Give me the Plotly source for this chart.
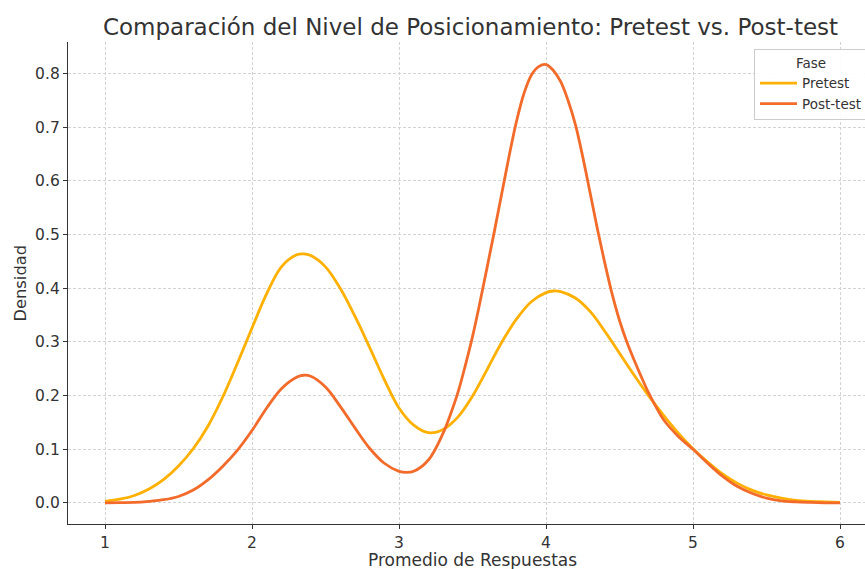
import plotly.graph_objects as go

# Density of the average response, per phase (sampled along the response scale)
pre_x = [1.0, 1.1, 1.2, 1.3, 1.4, 1.5, 1.6, 1.7, 1.8, 1.9, 2.0, 2.1, 2.2, 2.3, 2.35,
         2.4, 2.5, 2.6, 2.7, 2.8, 2.9, 3.0, 3.1, 3.2, 3.3, 3.4, 3.5, 3.6, 3.7, 3.8,
         3.9, 4.0, 4.05, 4.1, 4.2, 4.3, 4.4, 4.5, 4.6, 4.7, 4.8, 4.9, 5.0, 5.1, 5.2,
         5.3, 5.4, 5.5, 5.6, 5.7, 5.8, 5.9, 6.0]
pre_y = [0.003, 0.007, 0.014, 0.026, 0.044, 0.069, 0.101, 0.143, 0.197, 0.260, 0.326,
         0.390, 0.440, 0.462, 0.464, 0.461, 0.440, 0.400, 0.348, 0.290, 0.230, 0.177,
         0.145, 0.131, 0.137, 0.160, 0.199, 0.249, 0.300, 0.343, 0.375, 0.392, 0.395,
         0.394, 0.382, 0.357, 0.320, 0.279, 0.238, 0.199, 0.163, 0.130, 0.101, 0.076,
         0.054, 0.037, 0.024, 0.015, 0.009, 0.005, 0.003, 0.002, 0.001]

post_x = [1.0, 1.1, 1.2, 1.3, 1.4, 1.5, 1.6, 1.7, 1.8, 1.9, 2.0, 2.1, 2.2, 2.3, 2.35,
          2.4, 2.5, 2.6, 2.7, 2.8, 2.9, 3.0, 3.05, 3.1, 3.2, 3.3, 3.35, 3.4, 3.45,
          3.5, 3.55, 3.6, 3.65, 3.7, 3.75, 3.8, 3.85, 3.9, 3.95, 4.0, 4.05, 4.1,
          4.15, 4.2, 4.25, 4.3, 4.35, 4.4, 4.45, 4.5, 4.55, 4.6, 4.65, 4.7, 4.75,
          4.8, 4.9, 5.0, 5.1, 5.2, 5.3, 5.4, 5.5, 5.6, 5.7, 5.8, 5.9, 6.0]
post_y = [0.000, 0.0005, 0.001, 0.003, 0.006, 0.012, 0.024, 0.043, 0.068, 0.098, 0.135,
          0.177, 0.213, 0.234, 0.238, 0.236, 0.216, 0.180, 0.140, 0.102, 0.074, 0.059,
          0.057, 0.059, 0.080, 0.130, 0.165, 0.205, 0.255, 0.310, 0.373, 0.440, 0.508,
          0.578, 0.648, 0.712, 0.763, 0.797, 0.813, 0.817, 0.806, 0.785, 0.750, 0.705,
          0.645, 0.578, 0.510, 0.447, 0.389, 0.340, 0.300, 0.266, 0.234, 0.204, 0.178,
          0.155, 0.124, 0.100, 0.074, 0.050, 0.031, 0.018, 0.009, 0.004, 0.002, 0.001,
          0.0003, 0.000]

x_ticks = [1, 2, 3, 4, 5, 6]
y_ticks = [0.0, 0.1, 0.2, 0.3, 0.4, 0.5, 0.6, 0.7, 0.8]

FONT = "DejaVu Sans"
TEXT = "#333333"
GRID = "#d3d3d3"

fig = go.Figure()
fig.add_trace(go.Scatter(x=pre_x, y=pre_y, mode="lines", name="Pretest",
                         line=dict(color="#FFB000", width=2.8, shape="spline", smoothing=1.0)))
fig.add_trace(go.Scatter(x=post_x, y=post_y, mode="lines", name="Post-test",
                         line=dict(color="#F26B2A", width=2.8, shape="spline", smoothing=1.0)))

fig.update_layout(
    width=865, height=569,
    margin=dict(l=68, r=0, t=42, b=45, autoexpand=False),
    paper_bgcolor="white", plot_bgcolor="white",
    font=dict(family=FONT, color=TEXT, size=15),
    title=dict(text="Comparación del Nivel de Posicionamiento: Pretest vs. Post-test",
               font=dict(family=FONT, size=23, color=TEXT),
               xref="paper", x=0.505, xanchor="center",
               yref="container", y=1 - 27 / 569, yanchor="middle"),
    showlegend=True,
    legend=dict(title=dict(text="Fase", side="top center", font=dict(size=13.5, color=TEXT)),
                font=dict(size=13.5, color=TEXT),
                x=0.8607, xanchor="left", y=0.985, yanchor="top",
                bgcolor="rgba(255,255,255,0.9)", bordercolor="#cccccc", borderwidth=1,
                itemwidth=37, tracegroupgap=0),
)

axis_common = dict(
    showgrid=True, gridcolor=GRID, griddash="3px,2px", gridwidth=0.9,
    showline=True, linecolor="#333333", linewidth=1.3, mirror=False,
    ticks="outside", ticklen=4, tickcolor="#333333", tickwidth=1,
    tickfont=dict(size=15.5, color=TEXT), zeroline=False,
)
fig.update_xaxes(range=[0.7483, 6.170], tickmode="array", tickvals=x_ticks,
                 ticktext=[str(v) for v in x_ticks], **axis_common)
fig.update_yaxes(range=[-0.0392, 0.859], tickmode="array", tickvals=y_ticks,
                 ticktext=[f"{v:.1f}" for v in y_ticks], **axis_common)

# Axis titles
fig.add_annotation(text="Promedio de Respuestas", xref="paper", yref="paper",
                   x=(472 - 68) / 797, y=0, xanchor="center", yanchor="top", yshift=-24,
                   showarrow=False, font=dict(family=FONT, size=17, color=TEXT))
fig.add_annotation(text="Densidad", xref="paper", yref="paper", textangle=-90,
                   x=0, y=0.5, xanchor="right", yanchor="middle", xshift=-37,
                   showarrow=False, font=dict(family=FONT, size=16.3, color=TEXT))

fig.write_html("out.html")
